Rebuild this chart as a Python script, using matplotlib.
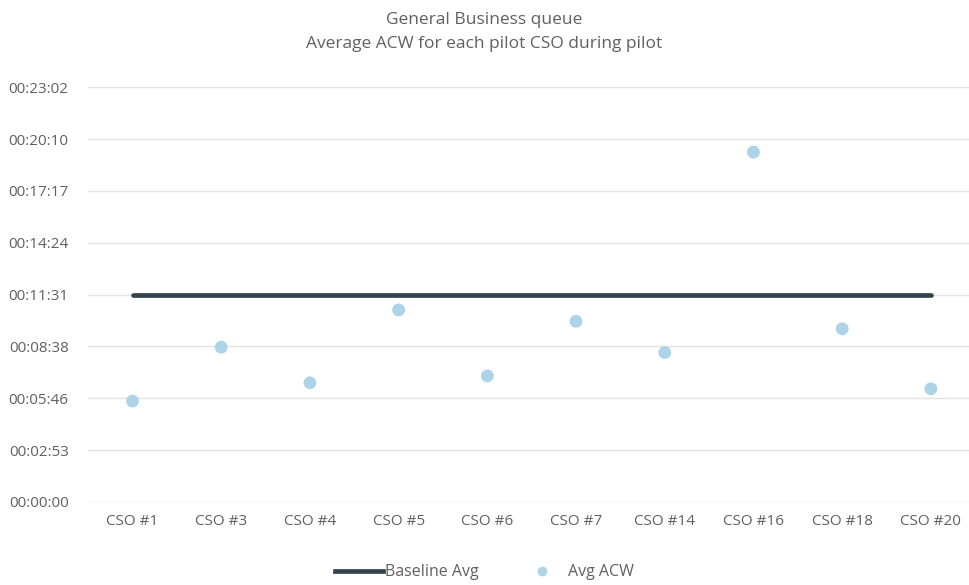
import numpy as np
import matplotlib.pyplot as plt
from matplotlib.ticker import FuncFormatter, MultipleLocator
from matplotlib.lines import Line2D

plt.rcParams['font.family'] = ['Open Sans', 'DejaVu Sans']

cso = ['CSO #1', 'CSO #3', 'CSO #4', 'CSO #5', 'CSO #6',
       'CSO #7', 'CSO #14', 'CSO #16', 'CSO #18', 'CSO #20']
# average after-call work per CSO, in seconds
avg_acw = [336, 516, 397, 640, 420, 602, 498, 1166, 577, 377]
baseline_avg = [691] * len(cso)

# excel-style axis: steps of 0.002 day
step = 0.002 * 86400


def hms(v, pos=None):
    s = int(round(v))
    return '%02d:%02d:%02d' % (s // 3600, (s // 60) % 60, s % 60)


text_col = '#606060'

fig = plt.figure(figsize=(9.69, 5.85), dpi=100)
ax = fig.add_axes([0.091, 0.142, 0.909, 0.709])

x = np.arange(len(cso))
ax.plot(x, baseline_avg, color='#34444f', lw=3.4, solid_capstyle='round', zorder=3)
ax.scatter(x, avg_acw, s=85, color='#add3e9', edgecolors='none', zorder=4)

ax.set_xlim(-0.5, 9.43)
ax.set_ylim(0, 8 * step)
ax.yaxis.set_major_locator(MultipleLocator(step))
ax.yaxis.set_major_formatter(FuncFormatter(hms))
ax.set_xticks(x)
ax.set_xticklabels(cso)

ax.grid(axis='y', color='#e3e3e3', lw=1)
ax.set_axisbelow(True)
for sp in ax.spines.values():
    sp.set_visible(False)
ax.tick_params(length=0, colors=text_col, labelsize=11)
ax.tick_params(axis='x', pad=9)
ax.tick_params(axis='y', pad=14)

fig.text(0.5, 0.966, 'General Business queue', ha='center', va='center',
         fontsize=12.5, color=text_col)
fig.text(0.5, 0.924, 'Average ACW for each pilot CSO during pilot', ha='center',
         va='center', fontsize=12.5, color=text_col)

handles = [Line2D([], [], color='#34444f', lw=3.4),
           Line2D([], [], ls='none', marker='o', ms=7, color='#add3e9', mec='none')]
fig.legend(handles, ['Baseline Avg', 'Avg ACW'], loc='center', bbox_to_anchor=(0.5, 0.022),
           ncol=2, frameon=False, fontsize=11.5, labelcolor=text_col,
           handlelength=3.0, handletextpad=0.1, columnspacing=2.5)

fig.savefig('out.png', dpi=100)
